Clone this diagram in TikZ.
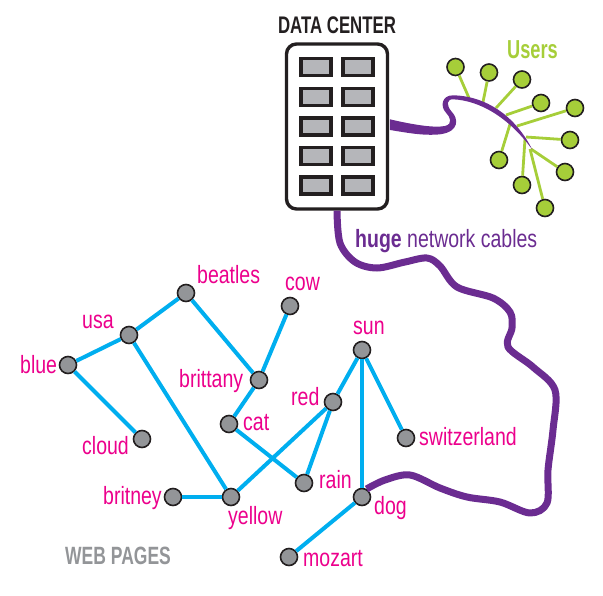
\documentclass[tikz,border=0pt]{standalone}
\usepackage{fontspec}
\setmainfont[FakeStretch=0.78]{Liberation Sans}
\newfontfamily\narrowhead[FakeStretch=0.7]{Liberation Sans}
\definecolor{ink}{HTML}{231F20}
\definecolor{slotgray}{HTML}{B5B6BA}
\definecolor{dotgray}{HTML}{939598}
\definecolor{linkblue}{HTML}{00AEEF}
\definecolor{lime}{HTML}{A6CE39}
\definecolor{cable}{HTML}{6B2C91}
\definecolor{pinkish}{HTML}{EC008C}
\tikzset{
  page/.style={circle,draw=ink,fill=dotgray,line width=1.6pt,minimum size=17pt,inner sep=0pt},
  user/.style={circle,draw=ink,fill=lime,line width=1.6pt,minimum size=17pt,inner sep=0pt},
  slot/.style={draw=ink,fill=slotgray,line width=3.4pt,minimum width=30pt,minimum height=17pt,inner sep=0pt},
  word/.style={anchor=base west,inner sep=0pt,text=pinkish,font=\fontsize{25}{25}\selectfont},
  head/.style={anchor=base west,inner sep=0pt,font=\narrowhead\bfseries},
  link/.style={draw=linkblue,line width=4pt},
  spoke/.style={draw=lime,line width=2.8pt},
  thick cable/.style={draw=cable,line width=7pt}
}
\begin{document}
\begin{tikzpicture}[x=1pt,y=-1pt]
\useasboundingbox (0,0) rectangle (603,595);
% web pages
\node[page] (beatles) at (186,293) {};
\node[page] (usa) at (129,335) {};
\node[page] (blue) at (68,365) {};
\node[page] (cloud) at (142,439) {};
\node[page] (britney) at (173,497) {};
\node[page] (yellow) at (231,497) {};
\node[page] (cat) at (229,424) {};
\node[page] (brittany) at (259,380) {};
\node[page] (cow) at (290,306) {};
\node[page] (sun) at (362,350) {};
\node[page] (red) at (333,402) {};
\node[page] (switzerland) at (406,438) {};
\node[page] (rain) at (304,483) {};
\node[page] (dog) at (362,497) {};
\node[page] (mozart) at (289,557) {};
\draw[link] (usa) -- (beatles);
\draw[link] (blue) -- (usa);
\draw[link] (blue) -- (cloud);
\draw[link] (usa) -- (yellow);
\draw[link] (beatles) -- (brittany);
\draw[link] (brittany) -- (cow);
\draw[link] (brittany) -- (cat);
\draw[link] (cat) -- (rain);
\draw[link] (yellow) -- (red);
\draw[link] (britney) -- (yellow);
\draw[link] (red) -- (sun);
\draw[link] (red) -- (rain);
\draw[link] (sun) -- (dog);
\draw[link] (sun) -- (switzerland);
\draw[link] (dog) -- (mozart);
% labels
\node[word] (lbeatles) at (197,283) {beatles};
\node[word] (lusa) at (82,328) {usa};
\node[word] (lblue) at (20,373) {blue};
\node[word] (lcloud) at (82,454) {cloud};
\node[word] (lbrittany) at (179,387) {brittany};
\node[word] (lcat) at (243,430) {cat};
\node[word] (lbritney) at (103,504) {britney};
\node[word] (lyellow) at (228,524) {yellow};
\node[word] (lcow) at (285,290) {cow};
\node[word] (lsun) at (353,334) {sun};
\node[word] (lred) at (291,405) {red};
\node[word] (lswitzerland) at (419,445) {switzerland};
\node[word] (lrain) at (319,488) {rain};
\node[word] (ldog) at (374,514) {dog};
\node[word] (lmozart) at (303,566) {mozart};
\node[head,text=dotgray,font=\fontsize{25}{25}\selectfont\narrowhead\bfseries] (webpages) at (65,564) {WEB PAGES};
% data center
\node[draw=ink,fill=white,line width=3.4pt,rounded corners=10pt,minimum width=101pt,minimum height=165pt,inner sep=0pt] (dc) at (337,126.5) {};
\foreach \n/\y in {1/67,2/97,3/126.5,4/156,5/185.5}{
  \node[slot] (sl\n) at (316,\y) {};
  \node[slot] (sr\n) at (358,\y) {};
}
\node[head,anchor=base,text=ink,font=\fontsize{24}{24}\selectfont\narrowhead\bfseries] (dctitle) at (337,33) {DATA CENTER};
% users
\node[user] (u1) at (455.5,67) {};
\node[user] (u2) at (489,72.5) {};
\node[user] (u3) at (522,79.5) {};
\node[user] (u4) at (541,103) {};
\node[user] (u5) at (575,108) {};
\node[user] (u6) at (570,140) {};
\node[user] (u7) at (565,172) {};
\node[user] (u8) at (545,208) {};
\node[user] (u9) at (522,185) {};
\node[user] (u10) at (499,160) {};
\coordinate (j1) at (469,98);
\coordinate (j2) at (483,102);
\coordinate (j3) at (496,108);
\coordinate (j4) at (506,115);
\coordinate (j5) at (517,126);
\coordinate (j6) at (526,137);
\coordinate (j7) at (531,149);
\coordinate (j8) at (530,149);
\coordinate (j9) at (525,139);
\coordinate (j10) at (511,121);
\foreach \k in {1,...,10}{\draw[spoke] (u\k) -- (j\k);}
\node[head,text=lime,font=\fontsize{26}{26}\selectfont\narrowhead\bfseries] (users) at (507,58) {Users};
% tapered user cable
\begin{scope}[shift={(270,0)},x=0.3333pt,y=-0.3333pt]
\fill[cable] (360,358) .. controls (420,372) and (490,385) .. (525,378)
  .. controls (550,372) and (540,350) .. (528,338)
  .. controls (510,320) and (515,285) .. (550,286)
  .. controls (630,287) and (728,332) .. (787,449)
  .. controls (716,352) and (630,302) .. (550,298)
  .. controls (530,297) and (528,315) .. (545,335)
  .. controls (565,355) and (570,395) .. (510,403)
  .. controls (460,408) and (410,398) .. (360,390) -- cycle;
\end{scope}
% big cable
\draw[thick cable,line join=round] plot[smooth,tension=0.55] coordinates {(dc.south) (340,243) (355,262) (377,268) (405,262) (427,258) (440,266) (457,287) (493,298) (510,312) (512,328) (508,347) (533,367) (555,390) (553,430) (548,470) (547,503) (530,513) (500,502) (467,497) (440,488) (410,475) (385,480) (dog.60)};
\node[anchor=base west,inner sep=0pt,text=cable,font=\fontsize{25}{25}\selectfont] (huge) at (355,247) {\textbf{huge} network cables};
\end{tikzpicture}
\end{document}
